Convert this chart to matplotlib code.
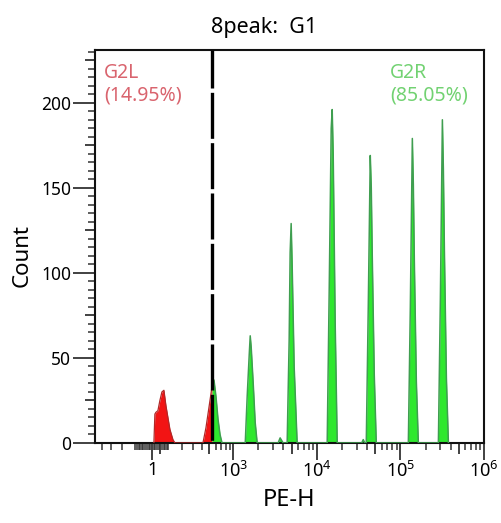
import numpy as np
import matplotlib
matplotlib.use("Agg")
import matplotlib.pyplot as plt

plt.rcParams['font.family'] = ['Noto Sans', 'DejaVu Sans']
plt.rcParams['mathtext.fontset'] = 'custom'
plt.rcParams['mathtext.rm'] = 'Noto Sans'

# ---- data ----
pe_h = [11.8, 17.7, 23.6, 35.6, 47.6, 59.8, 72.1, 84.7, 97.5, 110.6, 131, 145,
        410, 450, 493, 539, 572, 607, 643, 682, 722,
        1390, 1469, 1553, 1596, 1641, 1734, 1832, 1936,
        3452, 3650, 3963,
        4429, 4679, 4810, 4945, 5082, 5370, 5833,
        13340, 14100, 14900, 15310, 15740, 16630, 17580,
        34500, 36000, 37500,
        39120, 41330, 43680, 44900, 46140, 48760, 51520,
        124560, 131600, 139070, 142940, 146940, 155300, 164060,
        284800, 300900, 318000, 326800, 336000, 355200, 375300]
counts = [0, 17, 18, 19, 25, 30, 31, 22, 15, 8, 2, 0,
          0, 9, 21, 33, 37, 27, 14, 5, 0,
          0, 28, 52, 63, 56, 35, 12, 0,
          0, 3, 0,
          0, 60, 112, 129, 105, 45, 0,
          0, 90, 185, 196, 170, 70, 0,
          0, 2, 0,
          0, 80, 169, 150, 110, 40, 0,
          0, 80, 179, 152, 107, 36, 0,
          0, 85, 190, 161, 114, 38, 0]
gate = 540
gate_labels = ["G2L\n(14.95%)", "G2R\n(85.05%)"]
title = "8peak:  G1"
x_label = "PE-H"
y_label = "Count"
x_major = [1, 1e3, 1e4, 1e5, 1e6]
x_major_labels = ["1", r"$\mathregular{10^{3}}$", r"$\mathregular{10^{4}}$",
                  r"$\mathregular{10^{5}}$", r"$\mathregular{10^{6}}$"]
y_major = [0, 50, 100, 150, 200]

# ---- scale ----
W = 214.0
def fwd(x):
    return np.arcsinh(np.asarray(x, dtype=float) / W) / np.log(10)
def inv(u):
    return W * np.sinh(np.asarray(u, dtype=float) * np.log(10))

fig = plt.figure(figsize=(5.02, 5.23), dpi=100)
ax = fig.add_axes([95/502, 1 - 443/523, (484 - 95)/502, (443 - 50)/523])
ax.set_xscale('function', functions=(fwd, inv))
ax.set_xlim(-490, 1e6)
ax.set_ylim(0, 231)

x = np.array(pe_h)
y = np.array(counts)
yg = np.interp(gate, x, y)
xs = np.insert(x, np.searchsorted(x, gate), gate)
ys = np.insert(y, np.searchsorted(x, gate), yg)
left = xs <= gate
right = xs >= gate
ax.fill_between(xs[left], 0, ys[left], color='#f21414', lw=0, zorder=2)
ax.plot(xs[left], ys[left], color='#b02828', lw=0.9, zorder=3)
ax.fill_between(xs[right], 0, ys[right], color='#2ee82e', lw=0, zorder=2)
ax.plot(xs[right], ys[right], color='#3f9e50', lw=1.1, zorder=3)

ax.plot([gate, gate], [231, 0], color='black', lw=2.4,
        ls=(2.4, (13.8, 1.3)), zorder=4, clip_on=False)

ax.text(104/502, 1 - 63/523, gate_labels[0], transform=fig.transFigure,
        color='#d9646e', fontsize=14, va='top', ha='left', linespacing=1.2)
ax.text(390/502, 1 - 63/523, gate_labels[1], transform=fig.transFigure,
        color='#72d272', fontsize=14, va='top', ha='left', linespacing=1.2)

fig.text(264/502, 1 - 27/523, title, ha='center', va='center', fontsize=15.5)
fig.text(289/502, 1 - 500/523, x_label, ha='center', va='center', fontsize=17)
fig.text(22/502, 1 - 256/523, y_label, ha='center', va='center', rotation=90, fontsize=16)

# x ticks
x_mid = []
x_min = []
for e in [1, 2, 3, 4, 5]:
    for k in range(1, 10):
        v = k * 10 ** e
        if v in (1e3, 1e4, 1e5, 1e6) or v >= 1e6:
            continue
        if k == 5:
            x_mid.append(v)
        else:
            x_min.append(v)
for v in [-100, -200, -300, -400]:
    x_min.append(v)
for v in [-10, -20, -30, -40, -50, -60, -70, -80, -90]:
    x_min.append(v)
xt = x_major + x_mid
xl = x_major_labels + [""] * len(x_mid)
ax.set_xticks(xt, xl)
ax.set_xticks(x_min, minor=True)
ax.tick_params(axis='x', which='major', length=12, width=1.3, color='#333333',
               labelsize=13, pad=1)
ax.tick_params(axis='x', which='minor', length=5, width=1.1, color='#333333')
for t, v in zip(ax.xaxis.get_major_ticks(), xt):
    if v in x_mid:
        t.tick1line.set_markersize(8)

# y ticks
yt = list(range(0, 226, 25))
ax.set_yticks(yt, [str(v) if v in y_major else "" for v in yt])
ax.set_yticks([v for v in range(0, 231, 5) if v % 25], minor=True)
ax.tick_params(axis='y', which='major', length=16, width=1.3, color='#333333',
               labelsize=12.5, pad=1)
ax.tick_params(axis='y', which='minor', length=5, width=1.1, color='#333333')
for t, v in zip(ax.yaxis.get_major_ticks(), yt):
    if v not in y_major:
        t.tick1line.set_markersize(7)

for s in ax.spines.values():
    s.set_linewidth(1.5)
    s.set_color('#111111')

fig.savefig("out.png", dpi=100)
